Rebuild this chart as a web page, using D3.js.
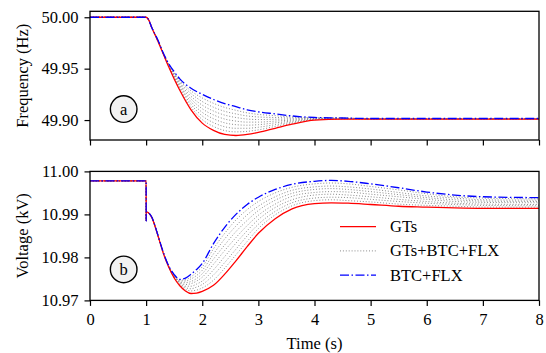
<!DOCTYPE html>
<html>
<head>
<meta charset="utf-8">
<script src="https://cdn.jsdelivr.net/npm/d3@7"></script>
<style>
  body { margin: 0; background: #fff; }
  svg { display: block; }
  text { fill: #000; }
</style>
</head>
<body>
<svg id="chart" width="546" height="353"></svg>
<script>
// time grids (s)
const freqTime = [0, 1, 1.05, 1.1, 1.2, 1.3, 1.4, 1.5, 1.6, 1.8, 2.0, 2.2, 2.4, 2.6, 2.8, 3.0, 3.3, 3.6, 4.0, 4.5, 5, 8];
const voltTime = [0, 1, 1.001, 1.002, 1.1, 1.2, 1.3, 1.4, 1.5, 1.6, 1.7, 1.8, 1.9, 2.0, 2.2, 2.4, 2.6, 2.8, 3.0, 3.3, 3.6, 4.0, 4.3, 4.6, 5.0, 5.5, 6.0, 6.5, 7.0, 8.0];

// frequency (Hz)
const freqGTs = [50.000, 50.000, 49.997, 49.990, 49.978, 49.965, 49.952, 49.940, 49.929, 49.910, 49.897, 49.890, 49.886, 49.885, 49.886, 49.888, 49.892, 49.896, 49.900, 49.901, 49.901, 49.901];
const freqBTC = [50.000, 50.000, 49.997, 49.990, 49.979, 49.966, 49.955, 49.947, 49.940, 49.931, 49.925, 49.920, 49.916, 49.913, 49.910, 49.908, 49.906, 49.904, 49.9025, 49.902, 49.9015, 49.9015];
const freqMix = [
  [50, 50, 49.997, 49.990, 49.9781, 49.9651, 49.9524, 49.9409, 49.9304, 49.9126, 49.9005, 49.8938, 49.8898, 49.8885, 49.889, 49.8905, 49.8938, 49.897, 49.9003, 49.9011, 49.9011, 49.9011],
  [50, 50, 49.997, 49.990, 49.9783, 49.9653, 49.9528, 49.9418, 49.9318, 49.9153, 49.904, 49.8975, 49.8935, 49.892, 49.892, 49.893, 49.8955, 49.898, 49.9006, 49.9013, 49.9011, 49.9011],
  [50, 50, 49.997, 49.990, 49.9784, 49.9654, 49.9531, 49.9426, 49.9331, 49.9179, 49.9075, 49.9013, 49.8973, 49.8955, 49.895, 49.8955, 49.8973, 49.899, 49.9009, 49.9014, 49.9012, 49.9012],
  [50, 50, 49.997, 49.990, 49.9785, 49.9655, 49.9535, 49.9435, 49.9345, 49.9205, 49.911, 49.905, 49.901, 49.899, 49.898, 49.898, 49.899, 49.900, 49.9013, 49.9015, 49.9013, 49.9013],
  [50, 50, 49.997, 49.990, 49.9786, 49.9656, 49.9539, 49.9444, 49.9359, 49.9231, 49.9145, 49.9088, 49.9048, 49.9025, 49.901, 49.9005, 49.9008, 49.901, 49.9016, 49.9016, 49.9013, 49.9013],
  [50, 50, 49.997, 49.990, 49.9788, 49.9658, 49.9543, 49.9453, 49.9373, 49.9258, 49.918, 49.9125, 49.9085, 49.906, 49.904, 49.903, 49.9025, 49.902, 49.9019, 49.9018, 49.9014, 49.9014],
  [50, 50, 49.997, 49.990, 49.9789, 49.9659, 49.9546, 49.9461, 49.9386, 49.9284, 49.9215, 49.9163, 49.9123, 49.9095, 49.907, 49.9055, 49.9043, 49.903, 49.9022, 49.9019, 49.9014, 49.9014]
];

// voltage (kV)
const voltGTs = [10.9978, 10.9978, 10.9885, 10.9906, 10.9893, 10.9855, 10.9812, 10.9778, 10.9752, 10.9734, 10.9722, 10.9716, 10.9717, 10.9721, 10.9735, 10.9761, 10.9792, 10.9825, 10.9856, 10.9890, 10.9913, 10.9925, 10.9927, 10.9926, 10.9923, 10.9919, 10.9917, 10.9915, 10.9914, 10.9914];
const voltBTC = [10.9978, 10.9978, 10.9885, 10.9906, 10.9894, 10.9856, 10.9814, 10.9781, 10.9760, 10.9749, 10.9752, 10.9761, 10.9772, 10.9786, 10.9832, 10.9870, 10.9900, 10.9923, 10.9940, 10.9958, 10.9970, 10.9977, 10.9979, 10.9977, 10.9971, 10.9962, 10.9952, 10.9945, 10.9941, 10.9939];
const voltMix = [
  [10.9978, 10.9978, 10.9885, 10.9906, 10.9893, 10.9855, 10.9812, 10.9778, 10.9753, 10.9736, 10.9726, 10.9722, 10.9724, 10.9729, 10.9747, 10.9775, 10.9806, 10.9837, 10.9867, 10.9899, 10.9920, 10.9932, 10.9934, 10.9932, 10.9929, 10.9924, 10.9921, 10.9919, 10.9917, 10.9917],
  [10.9978, 10.9978, 10.9885, 10.9906, 10.9893, 10.9855, 10.9813, 10.9779, 10.9754, 10.9738, 10.9730, 10.9727, 10.9731, 10.9737, 10.9759, 10.9788, 10.9819, 10.9850, 10.9877, 10.9907, 10.9927, 10.9938, 10.9940, 10.9939, 10.9935, 10.9930, 10.9926, 10.9923, 10.9921, 10.9920],
  [10.9978, 10.9978, 10.9885, 10.9906, 10.9893, 10.9855, 10.9813, 10.9779, 10.9755, 10.9740, 10.9733, 10.9733, 10.9738, 10.9745, 10.9771, 10.9802, 10.9833, 10.9862, 10.9888, 10.9916, 10.9934, 10.9945, 10.9947, 10.9945, 10.9941, 10.9935, 10.9930, 10.9926, 10.9924, 10.9923],
  [10.9978, 10.9978, 10.9885, 10.9906, 10.9893, 10.9855, 10.9813, 10.9780, 10.9756, 10.9742, 10.9737, 10.9739, 10.9745, 10.9754, 10.9784, 10.9816, 10.9846, 10.9874, 10.9898, 10.9924, 10.9942, 10.9951, 10.9953, 10.9952, 10.9947, 10.9941, 10.9935, 10.9930, 10.9928, 10.9927],
  [10.9978, 10.9978, 10.9885, 10.9906, 10.9894, 10.9856, 10.9813, 10.9780, 10.9757, 10.9743, 10.9741, 10.9744, 10.9751, 10.9762, 10.9796, 10.9829, 10.9860, 10.9886, 10.9909, 10.9933, 10.9949, 10.9958, 10.9960, 10.9958, 10.9953, 10.9946, 10.9939, 10.9934, 10.9931, 10.9930],
  [10.9978, 10.9978, 10.9885, 10.9906, 10.9894, 10.9856, 10.9814, 10.9780, 10.9758, 10.9745, 10.9745, 10.9750, 10.9758, 10.9770, 10.9808, 10.9843, 10.9873, 10.9899, 10.9919, 10.9941, 10.9956, 10.9964, 10.9966, 10.9964, 10.9959, 10.9951, 10.9943, 10.9938, 10.9934, 10.9933],
  [10.9978, 10.9978, 10.9885, 10.9906, 10.9894, 10.9856, 10.9814, 10.9781, 10.9759, 10.9747, 10.9748, 10.9755, 10.9765, 10.9778, 10.9820, 10.9856, 10.9887, 10.9911, 10.9930, 10.9950, 10.9963, 10.9971, 10.9973, 10.9971, 10.9965, 10.9957, 10.9948, 10.9941, 10.9938, 10.9936]
];

// ticks and labels
const timeTicks = [0, 1, 2, 3, 4, 5, 6, 7, 8];
const freqTicks = [49.90, 49.95, 50.00];
const voltTicks = [10.97, 10.98, 10.99, 11.00];
const legendNames = ["GTs", "GTs+BTC+FLX", "BTC+FLX"];

const svg = d3.select("#chart");
const left = 90, right = 539;
const fontSize = 16.5;
const fontFamily = "'Liberation Serif', 'DejaVu Serif', 'Noto Serif', serif";

const x = d3.scaleLinear().domain([0, 8]).range([left, right]);

const styles = {
  gts: { stroke: "#ff0000", width: 1.3, dash: null },
  mix: { stroke: "#8a8a8a", width: 1, dash: "1,1.9" },
  btc: { stroke: "#0000ff", width: 1.3, dash: "9,2.5,1.5,2.5" }
};

function addText(sel) {
  return sel.append("text")
    .attr("font-family", fontFamily)
    .attr("font-size", fontSize)
    .attr("fill", "#000");
}

function drawPanel(top, bottom, domain, yTicks, tickFmt, time, gts, mix, btc, yLabel, tag, showX) {
  const y = d3.scaleLinear().domain(domain).range([bottom, top]);
  const g = svg.append("g");

  const line = vals => d3.line()
    .x((d, i) => x(time[i]))
    .y(d => y(d))
    .curve(d3.curveMonotoneX)(vals);

  const clipId = "clip" + tag;
  svg.append("clipPath").attr("id", clipId)
    .append("rect").attr("x", left).attr("y", top).attr("width", right - left).attr("height", bottom - top);

  const plot = g.append("g").attr("clip-path", `url(#${clipId})`);

  mix.forEach(vals => {
    plot.append("path").attr("d", line(vals)).attr("fill", "none")
      .attr("stroke", styles.mix.stroke).attr("stroke-width", styles.mix.width)
      .attr("stroke-dasharray", styles.mix.dash);
  });
  plot.append("path").attr("d", line(gts)).attr("fill", "none")
    .attr("stroke", styles.gts.stroke).attr("stroke-width", styles.gts.width);
  plot.append("path").attr("d", line(btc)).attr("fill", "none")
    .attr("stroke", styles.btc.stroke).attr("stroke-width", styles.btc.width)
    .attr("stroke-dasharray", styles.btc.dash);

  // axes
  const xAxis = d3.axisBottom(x).tickValues(timeTicks).tickSize(5.5).tickPadding(7)
    .tickFormat(showX ? d3.format("d") : () => "");
  const ax = g.append("g").attr("transform", `translate(0,${bottom})`).call(xAxis);
  const yAxis = d3.axisLeft(y).tickValues(yTicks).tickSize(5.5).tickPadding(6).tickFormat(tickFmt);
  const ay = g.append("g").attr("transform", `translate(${left},0)`).call(yAxis);
  [ax, ay].forEach(a => {
    a.attr("font-family", fontFamily).attr("font-size", fontSize);
    a.select(".domain").remove();
    a.selectAll("line").attr("stroke", "#000").attr("stroke-width", 1.2);
    a.selectAll("text").attr("fill", "#000");
  });

  // frame
  g.append("rect").attr("x", left).attr("y", top).attr("width", right - left).attr("height", bottom - top)
    .attr("fill", "none").attr("stroke", "#000").attr("stroke-width", 1.3);

  // y label
  addText(g)
    .attr("transform", `translate(22,${(top + bottom) / 2}) rotate(-90)`)
    .attr("text-anchor", "middle").attr("dominant-baseline", "central")
    .text(yLabel);

  // panel tag
  const tx = x(0.6), ty = top + (bottom - top) * 0.76;
  g.append("circle").attr("cx", tx).attr("cy", ty).attr("r", 13.3)
    .attr("fill", "#f2f2f2").attr("stroke", "#000").attr("stroke-width", 1.4);
  addText(g).attr("x", tx).attr("y", ty).attr("text-anchor", "middle")
    .attr("dominant-baseline", "central").text(tag);

  return y;
}

drawPanel(11.3, 140, [49.8806, 50.0058], freqTicks, d3.format(".2f"),
  freqTime, freqGTs, freqMix, freqBTC, "Frequency (Hz)", "a", false);
drawPanel(171.4, 300.4, [10.97, 11.00], voltTicks, d3.format(".2f"),
  voltTime, voltGTs, voltMix, voltBTC, "Voltage (kV)", "b", true);

// x label
addText(svg).attr("x", x(4)).attr("y", 343).attr("text-anchor", "middle")
  .attr("dominant-baseline", "central").text("Time (s)");

// legend
const legendStyles = [styles.gts, styles.mix, styles.btc];
const legend = svg.append("g");
legendNames.forEach((name, i) => {
  const ly = 226.7 + i * 24.2;
  const s = legendStyles[i];
  legend.append("line").attr("x1", 340).attr("x2", 376).attr("y1", ly).attr("y2", ly)
    .attr("stroke", s.stroke).attr("stroke-width", s.width)
    .attr("stroke-dasharray", s.dash);
  addText(legend).attr("x", 390).attr("y", ly).attr("dominant-baseline", "central").text(name);
});
</script>
</body>
</html>
